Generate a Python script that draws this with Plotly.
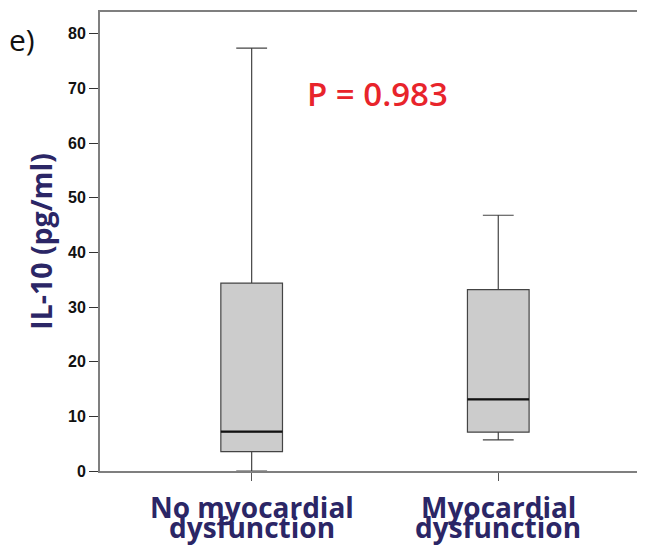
import plotly.graph_objects as go

# Data
categories = ["No myocardial dysfunction", "Myocardial dysfunction"]
label_line1 = ["No myocardial", "Myocardial"]
label_line2 = ["dysfunction", "dysfunction"]
lower_whisker = [0.0, 5.7]
q1 = [3.55, 7.1]
median = [7.2, 13.1]
q3 = [34.4, 33.2]
upper_whisker = [77.4, 46.8]
y_ticks = [0, 10, 20, 30, 40, 50, 60, 70, 80]
p_text = "P = 0.983"
panel_label = "e)"
y_title = "IL-10 (pg/ml)"

NAVY = "#2b2666"
AXIS = "#7f7f7f"

fig = go.Figure()
fig.add_trace(go.Box(
    x=categories, q1=q1, median=median, q3=q3,
    lowerfence=lower_whisker, upperfence=upper_whisker,
    fillcolor="#cccccc", line=dict(color="#444444", width=1.2),
    width=0.25, whiskerwidth=0.5, boxpoints=False, hoverinfo="skip",
    showlegend=False,
))
# thick median line overlay
fig.add_trace(go.Box(
    x=categories, q1=median, median=median, q3=median,
    lowerfence=median, upperfence=median,
    fillcolor="rgba(0,0,0,0)", line=dict(color="#111111", width=2.2),
    width=0.25, whiskerwidth=0, boxpoints=False, hoverinfo="skip",
    showlegend=False,
))

label_font = dict(family="Open Sans", size=28, color=NAVY, weight="bold")
annotations = []
for cat, l1, l2 in zip(categories, label_line1, label_line2):
    annotations.append(dict(x=cat, xref="x", y=0, yref="paper", text=l1,
                            showarrow=False, yanchor="middle", yshift=-36,
                            font=label_font))
    annotations.append(dict(x=cat, xref="x", y=0, yref="paper", text=l2,
                            showarrow=False, yanchor="middle", yshift=-56,
                            font=label_font))
annotations.append(dict(x=0.51, xref="paper", y=0.8235, yref="paper", text=p_text,
                        showarrow=False, xanchor="center", yanchor="middle",
                        font=dict(family="Open Sans", size=33, color="#e8242b", weight=600)))
annotations.append(dict(x=-0.144, xref="paper", y=0.939, yref="paper", text=panel_label,
                        showarrow=False, xanchor="center", yanchor="middle",
                        font=dict(family="Open Sans", size=30, color="#111111", weight=500)))

fig.update_layout(
    width=637, height=542,
    margin=dict(l=92, r=0, t=4, b=79, autoexpand=False),
    plot_bgcolor="white", paper_bgcolor="white",
    showlegend=False,
    boxmode="overlay",
    annotations=annotations,
    xaxis=dict(
        type="category", range=[-0.615, 1.595],
        showticklabels=False, ticks="outside", ticklen=8, tickcolor="#555555", tickwidth=1.2,
        showline=True, linecolor=AXIS, linewidth=2, mirror=True,
        showgrid=False, zeroline=False, automargin=False,
    ),
    yaxis=dict(
        range=[0, 84], tickvals=y_ticks,
        ticks="outside", ticklen=9, tickcolor="#333333", tickwidth=1.2,
        tickfont=dict(family="Liberation Sans", size=16, color="#111111", weight="bold"),
        showline=True, linecolor=AXIS, linewidth=2,
        showgrid=False, zeroline=False, automargin=False,
        title=dict(text=y_title, standoff=7,
                   font=dict(family="Open Sans", size=28.5, color=NAVY, weight="bold")),
    ),
)

fig.write_html("out.html")
